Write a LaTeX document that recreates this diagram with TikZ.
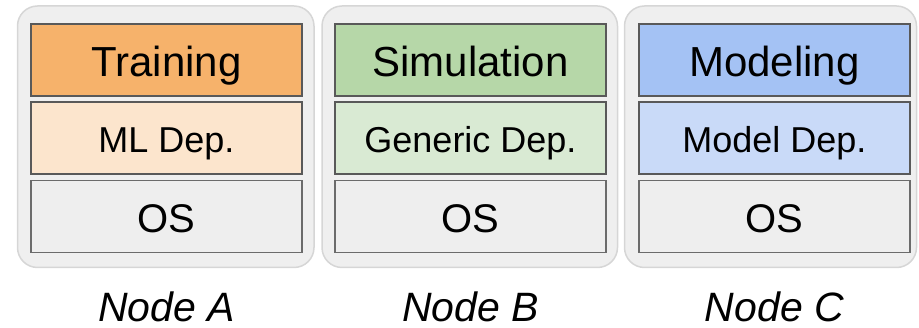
\documentclass[tikz,border=0pt]{standalone}
\usepackage{fontspec}
\setmainfont{Liberation Sans}
\definecolor{panelfill}{HTML}{EFEFEF}
\definecolor{panelline}{HTML}{D6D6D6}
\definecolor{darkline}{HTML}{595959}
\definecolor{osline}{HTML}{6B6B6B}
\definecolor{osfill}{HTML}{EEEEEE}
\definecolor{orangeA}{HTML}{F6B26B}
\definecolor{orangeB}{HTML}{FCE5CD}
\definecolor{greenA}{HTML}{B6D7A8}
\definecolor{greenB}{HTML}{D9EAD3}
\definecolor{blueA}{HTML}{A4C2F4}
\definecolor{blueB}{HTML}{C9DAF8}
\begin{document}
\begin{tikzpicture}[x=1pt,y=-1pt,
  panel/.style={draw=panelline,fill=panelfill,line width=1.5pt,rounded corners=20pt},
  layer/.style={draw=darkline,line width=2.4pt,minimum width=271pt,minimum height=72pt,inner sep=0pt,text depth=0pt},
  appbox/.style={layer,text height=33.4pt,font=\fontsize{42}{48}\selectfont},
  depbox/.style={layer,text height=30.4pt,font=\fontsize{36}{42}\selectfont},
  osbox/.style={layer,text height=32.8pt,draw=osline,line width=1.6pt,fill=osfill,font=\fontsize{40}{46}\selectfont},
  caption/.style={font=\fontsize{41}{46}\selectfont\itshape,inner sep=0pt,text depth=0pt,anchor=base}]
\useasboundingbox (0,0) rectangle (919,328);

% machine panels
\draw[panel] (17.5,6) rectangle (314,267.5);
\draw[panel] (322,6) rectangle (617.5,267.5);
\draw[panel] (624.5,6) rectangle (916.5,267.5);

% Node A stack
\node[appbox,fill=orangeA] (trainA) at (166.5,60.3) {Training};
\node[depbox,fill=orangeB] (depA) at (166.5,137.8) {ML Dep.};
\node[osbox] (osA) at (166.5,216.6) {OS};
\node[caption] (capA) at (166.5,321.5) {Node A};

% Node B stack
\node[appbox,fill=greenA] (simB) at (470.5,60.3) {Simulation};
\node[depbox,fill=greenB] (depB) at (470.5,137.8) {Generic Dep.};
\node[osbox] (osB) at (470.5,216.6) {OS};
\node[caption] (capB) at (470.5,321.5) {Node B};

% Node C stack
\node[appbox,fill=blueA] (modC) at (774.5,60.3) {Modeling};
\node[depbox,fill=blueB] (depC) at (774.5,137.8) {Model Dep.};
\node[osbox] (osC) at (774.5,216.6) {OS};
\node[caption] (capC) at (774.5,321.5) {Node C};
\end{tikzpicture}
\end{document}
